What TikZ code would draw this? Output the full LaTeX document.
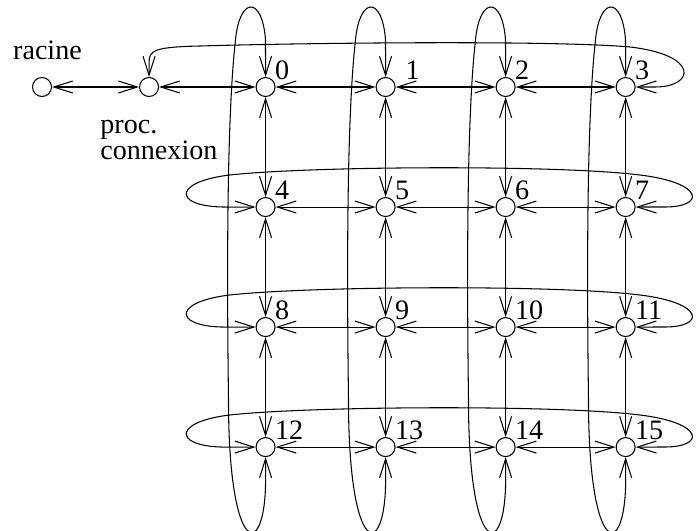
\documentclass[tikz,border=0pt]{standalone}
\usepackage{fontspec}
\setmainfont{Liberation Serif}
\usetikzlibrary{positioning,arrows.meta}

\begin{document}
\begin{tikzpicture}[
      x=0.02cm, y=-0.02cm,
      font=\fontsize{16}{15}\selectfont,
      noeud/.style={draw, circle, minimum size=0.38cm, inner sep=0pt, line width=0.6pt},
      numero/.style={inner sep=0pt, xshift=0.04cm},
      fleche/.style={{Straight Barb[length=0.38cm,width=0.24cm]}-{Straight Barb[length=0.38cm,width=0.24cm]},
                     line width=0.6pt},
      node distance=2cm]
    \useasboundingbox (0,0) rectangle (698,531);
    \node[noeud] (racine) at (42,87) {};
    \node[noeud, right=1.74cm of racine] (proc) {};
    \node[noeud, right=1.93cm of proc, label={[numero]north east:0}] (n0) {};
    \node[noeud, right=of n0, label={[numero, xshift=0.21cm]north east:1}] (n1) {};
    \node[noeud, right=of n1, label={[numero]north east:2}] (n2) {};
    \node[noeud, right=of n2, label={[numero]north east:3}] (n3) {};
    \node[noeud, below=of n0, label={[numero]north east:4}] (n4) {};
    \node[noeud, right=of n4, label={[numero]north east:5}] (n5) {};
    \node[noeud, right=of n5, label={[numero]north east:6}] (n6) {};
    \node[noeud, right=of n6, label={[numero]north east:7}] (n7) {};
    \node[noeud, below=of n4, label={[numero]north east:8}] (n8) {};
    \node[noeud, right=of n8, label={[numero]north east:9}] (n9) {};
    \node[noeud, right=of n9, label={[numero]north east:10}] (n10) {};
    \node[noeud, right=of n10, label={[numero]north east:11}] (n11) {};
    \node[noeud, below=of n8, label={[numero]north east:12}] (n12) {};
    \node[noeud, right=of n12, label={[numero]north east:13}] (n13) {};
    \node[noeud, right=of n13, label={[numero]north east:14}] (n14) {};
    \node[noeud, right=of n14, label={[numero]north east:15}] (n15) {};
    \node[anchor=base] (tracine) at (47.5,59) {racine};
    \node[anchor=north west, align=left, inner sep=0pt] (tproc) at (100,120) {proc.\\connexion};
    % liens horizontaux
    \draw[fleche] (racine) -- (proc);
    \draw[fleche] (proc) -- (n0);
    \draw[fleche] (n0) -- (n1);
    \draw[fleche] (n1) -- (n2);
    \draw[fleche] (n2) -- (n3);
    \draw[fleche] (n4) -- (n5);
    \draw[fleche] (n5) -- (n6);
    \draw[fleche] (n6) -- (n7);
    \draw[fleche] (n8) -- (n9);
    \draw[fleche] (n9) -- (n10);
    \draw[fleche] (n10) -- (n11);
    \draw[fleche] (n12) -- (n13);
    \draw[fleche] (n13) -- (n14);
    \draw[fleche] (n14) -- (n15);
    % liens verticaux
    \draw[fleche] (n0) -- (n4);
    \draw[fleche] (n4) -- (n8);
    \draw[fleche] (n8) -- (n12);
    \draw[fleche] (n1) -- (n5);
    \draw[fleche] (n5) -- (n9);
    \draw[fleche] (n9) -- (n13);
    \draw[fleche] (n2) -- (n6);
    \draw[fleche] (n6) -- (n10);
    \draw[fleche] (n10) -- (n14);
    \draw[fleche] (n3) -- (n7);
    \draw[fleche] (n7) -- (n11);
    \draw[fleche] (n11) -- (n15);
    % rebouclages des lignes
    \draw[fleche] (proc.north) -- ++(0,-15) .. controls +(0,-12) and (156,47) .. (200,46)
      .. controls (300,43) and (550,40) .. (630,47) .. controls (700,55) and (695,87) .. (655,87) -- (n3.east);
    \draw[fleche] (n4.west) -- ++(-30,0) .. controls (170,207) and (172,179) .. (240,174)
      .. controls (330,166) and (560,165) .. (640,175) .. controls (705,183) and (705,207) .. (665,207) -- (n7.east);
    \draw[fleche] (n8.west) -- ++(-30,0) .. controls (170,327) and (172,299) .. (240,294)
      .. controls (330,286) and (560,285) .. (640,295) .. controls (705,303) and (705,327) .. (665,327) -- (n11.east);
    \draw[fleche] (n12.west) -- ++(-30,0) .. controls (170,447) and (172,419) .. (240,414)
      .. controls (330,406) and (560,405) .. (640,415) .. controls (705,423) and (705,447) .. (665,447) -- (n15.east);
    % rebouclages des colonnes
    \draw[fleche] (n12.south) -- ++(0,23) .. controls +(0,80) and (228.5,560) .. (228.5,400)
      .. controls (226.5,250) and (227.5,110) .. (235.5,40) .. controls (239.5,-4) and (262.5,-4) .. (265.5,40) -- (n0.north);
    \draw[fleche] (n13.south) -- ++(0,23) .. controls +(0,80) and (348.5,560) .. (348.5,400)
      .. controls (346.5,250) and (347.5,110) .. (355.5,40) .. controls (359.5,-4) and (382.5,-4) .. (385.5,40) -- (n1.north);
    \draw[fleche] (n14.south) -- ++(0,23) .. controls +(0,80) and (468.5,560) .. (468.5,400)
      .. controls (466.5,250) and (467.5,110) .. (475.5,40) .. controls (479.5,-4) and (502.5,-4) .. (505.5,40) -- (n2.north);
    \draw[fleche] (n15.south) -- ++(0,23) .. controls +(0,80) and (588.5,560) .. (588.5,400)
      .. controls (586.5,250) and (587.5,110) .. (595.5,40) .. controls (599.5,-4) and (622.5,-4) .. (625.5,40) -- (n3.north);
\end{tikzpicture}
\end{document}
